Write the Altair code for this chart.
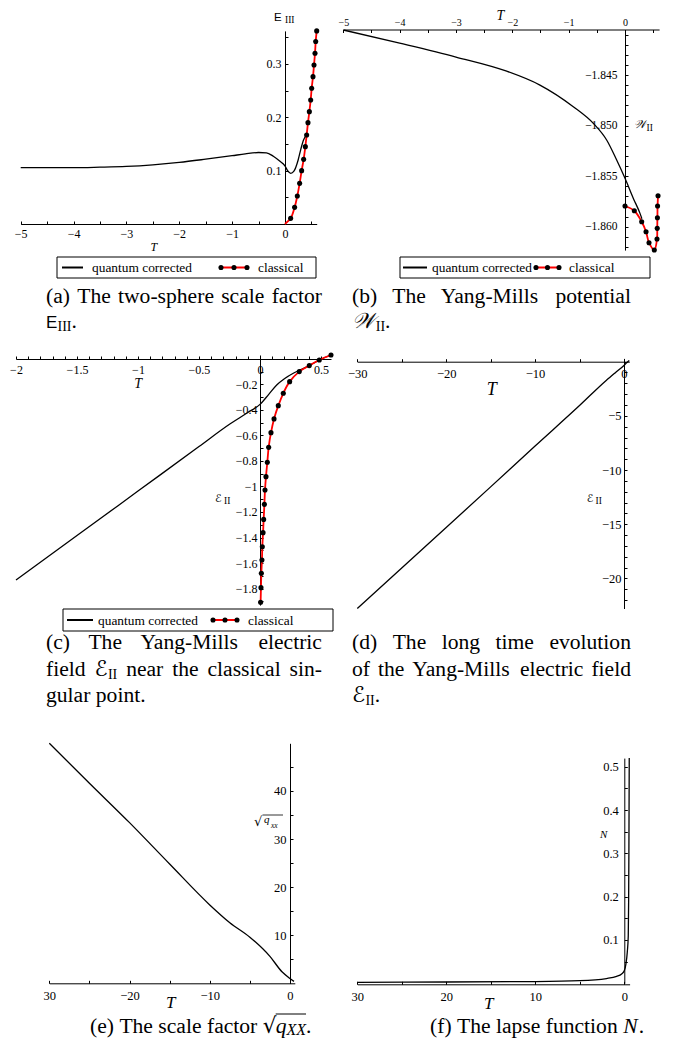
import altair as alt
import pandas as pd

# ---------------- data ----------------
# (a) two-sphere scale factor E_III
a_quant_T = [-5, -4, -3.5, -3, -2.5, -2, -1.5, -1, -0.75, -0.5, -0.35, -0.22, -0.1, 0, 0.05, 0.11, 0.17, 0.25, 0.3, 0.35, 0.41]
a_quant_E = [0.1055, 0.1055, 0.1065, 0.108, 0.111, 0.1155, 0.1215, 0.128, 0.1315, 0.134, 0.1335, 0.127, 0.118, 0.109, 0.1, 0.095, 0.099, 0.12, 0.14, 0.157, 0.167]
a_class_T = [0, 0.108, 0.183, 0.234, 0.278, 0.316, 0.354, 0.386, 0.411, 0.436, 0.462, 0.487, 0.506, 0.531, 0.55, 0.569, 0.582, 0.601]
a_class_E = [0, 0.0106, 0.0312, 0.0525, 0.0762, 0.1, 0.1212, 0.145, 0.1669, 0.19, 0.2106, 0.2325, 0.2544, 0.2762, 0.298, 0.32, 0.342, 0.362]

# (b) Yang-Mills potential W_II
b_quant_T = [-5, -4, -3, -2.1, -1.51, -0.918, -0.562, -0.326, -0.148, 0, 0.148, 0.266, 0.3]
b_quant_W = [-1.84055, -1.84185, -1.84322, -1.84462, -1.84599, -1.84813, -1.84978, -1.85142, -1.8534, -1.85521, -1.85719, -1.85867, -1.8592]
b_class_T = [0, 0.165, 0.296, 0.373, 0.426, 0.52, 0.568, 0.572, 0.575, 0.578, 0.586]
b_class_W = [-1.85794, -1.85841, -1.8595, -1.86048, -1.86157, -1.86229, -1.86121, -1.86015, -1.8591, -1.85794, -1.85693]

# (c) Yang-Mills electric field near the classical singular point
c_quant_T = [-2, -1.5, -1, -0.5, -0.25, -0.1, 0, 0.07, 0.137, 0.2, 0.273, 0.33, 0.404, 0.486, 0.582]
c_quant_E = [-1.733, -1.385, -1.036, -0.687, -0.512, -0.42, -0.356, -0.28, -0.204, -0.155, -0.112, -0.086, -0.052, -0.008, 0.031]
c_class_T = [0.005, 0.008, 0.011, 0.016, 0.019, 0.025, 0.03, 0.036, 0.041, 0.049, 0.06, 0.071, 0.09, 0.115, 0.15, 0.191, 0.243, 0.322, 0.404, 0.486, 0.582]
c_class_E = [-1.908, -1.793, -1.681, -1.576, -1.472, -1.362, -1.258, -1.14, -1.027, -0.923, -0.81, -0.693, -0.578, -0.47, -0.366, -0.269, -0.178, -0.099, -0.052, -0.008, 0.031]

# (d) long time evolution of the electric field
d_T = [-30, -25, -20, -15, -10, -5, -2, -1, 0, 0.3, 0.6]
d_E = [-22.77, -19.03, -15.3, -11.55, -7.78, -4.05, -1.733, -1.036, -0.356, -0.11, 0.1]

# (e) scale factor sqrt(q_xx)
e_T = [-30, -25, -20, -15, -10, -7.5, -5, -2.5, -1, 0, 0.5]
e_Q = [49.9, 41.6, 33.4, 24.8, 16.3, 12.6, 9.6, 5.6, 2.4, 1.0, 0.4]

# (f) lapse function N
f_T = [-30, -20, -10, -5, -2, -0.86, -0.3, 0, 0.19, 0.34, 0.45, 0.49, 0.52, 0.56]
f_N = [0.0023, 0.003, 0.004, 0.006, 0.011, 0.016, 0.0215, 0.029, 0.045, 0.072, 0.11, 0.187, 0.30, 0.52]

legend_labels = ["quantum corrected", "classical"]

# ---------------- helpers ----------------
W, H = 668, 1031
M = 8
SERIF = "Liberation Serif, Times New Roman, serif"
SANS = "Liberation Sans, Arial, sans-serif"
MATH = "DejaVu Serif, DejaVu Sans, Liberation Serif"
DUMMY = pd.DataFrame({"k": [0]})


def scale(dom, p0, p1):
    return alt.Scale(domain=dom, range=[p0 - M, p1 - M], nice=False, zero=False)


def x_label_axis(ypage, orient, values, size, pad, fmt="d", expr=None):
    y = ypage - M
    off = y - H if orient == "bottom" else -y
    kw = dict(orient=orient, offset=off, values=values, format=fmt, ticks=False, tickSize=0,
              labelPadding=pad, labelFont=SERIF, labelFontSize=size, labelColor="black",
              labelFlush=False, labelOverlap=False, domainColor="black", domainWidth=1,
              grid=False, title=None)
    if expr:
        kw["labelExpr"] = expr
    return alt.Axis(**kw)


def y_label_axis(xpage, values, size, pad, fmt="d"):
    return alt.Axis(orient="left", offset=-(xpage - M), values=values, format=fmt, ticks=False,
                    tickSize=0, labelPadding=pad, labelFont=SERIF, labelFontSize=size,
                    labelColor="black", labelFlush=False, labelOverlap=False,
                    domainColor="black", domainWidth=1, grid=False, title=None)


def x_tick_axis(ypage, orient, values, size=3):
    y = ypage - M
    off = y - H if orient == "bottom" else -y
    return alt.Axis(orient=orient, offset=off, values=values, labels=False, domain=False,
                    tickSize=size, tickColor="black", tickWidth=1, grid=False, title=None)


def y_tick_axis(xpage, values, size=3):
    return alt.Axis(orient="right", offset=(xpage - M) - W, values=values, labels=False,
                    domain=False, tickSize=size, tickColor="black", tickWidth=1, grid=False,
                    title=None)


def steps(a, b, s):
    n = int(round((b - a) / s))
    return [round(a + i * s, 6) for i in range(n + 1)]


def curve(T, V, xs, ys, color="black", width=1.3, interp="monotone", xaxis=None, yaxis=None, opacity=1):
    df = pd.DataFrame({"T": T, "V": V})
    return alt.Chart(df).mark_line(color=color, strokeWidth=width, interpolate=interp,
                                   strokeOpacity=opacity).encode(
        x=alt.X("T:Q", scale=xs, axis=xaxis),
        y=alt.Y("V:Q", scale=ys, axis=yaxis),
    )


def dots(T, V, xs, ys):
    df = pd.DataFrame({"T": T, "V": V})
    return alt.Chart(df).mark_circle(size=26, color="black", opacity=1).encode(
        x=alt.X("T:Q", scale=xs, axis=None), y=alt.Y("V:Q", scale=ys, axis=None))


def txt(s, xpage, ypage, size, font=SERIF, style="normal", align="left", baseline="alphabetic"):
    return alt.Chart(DUMMY).mark_text(text=s, font=font, fontSize=size, fontStyle=style,
                                      align=align, baseline=baseline, color="black").encode(
        x=alt.value(xpage - M), y=alt.value(ypage - M))


def hline(x0, x1, y, color, width):
    return alt.Chart(DUMMY).mark_rule(color=color, strokeWidth=width).encode(
        x=alt.value(x0 - M), x2=alt.value(x1 - M), y=alt.value(y - M))


def dot(x, y):
    return alt.Chart(DUMMY).mark_circle(size=26, color="black", opacity=1).encode(
        x=alt.value(x - M), y=alt.value(y - M))


def box(x0, x1, y0, y1):
    return alt.Chart(DUMMY).mark_rect(fill="white", fillOpacity=0, stroke="black", strokeWidth=1).encode(
        x=alt.value(x0 - M), x2=alt.value(x1 - M), y=alt.value(y0 - M), y2=alt.value(y1 - M))


def legend(x0, x1, y0, y1, black0, black1, t1, d0, d1, t2, size=13.4):
    yc = (y0 + y1) / 2
    return [box(x0, x1, y0, y1),
            hline(black0, black1, yc, "black", 2),
            txt(legend_labels[0], t1, yc + 4.5, size),
            hline(d0, d1, yc, "red", 2),
            dot(d0, yc), dot((d0 + d1) / 2, yc), dot(d1, yc),
            txt(legend_labels[1], t2, yc + 4.5, size)]


# caption typesetting (Times metrics)
TIMES = {' ': 250, '(': 333, ')': 333, '-': 333, '.': 250,
         'a': 444, 'b': 500, 'c': 444, 'd': 500, 'e': 444, 'f': 333, 'g': 500, 'h': 500,
         'i': 278, 'j': 278, 'k': 500, 'l': 278, 'm': 778, 'n': 500, 'o': 500, 'p': 500,
         'q': 500, 'r': 333, 's': 389, 't': 278, 'u': 500, 'v': 500, 'w': 722, 'x': 500,
         'y': 500, 'z': 444, 'T': 611, 'Y': 722, 'M': 889, 'E': 611, 'N': 722, 'I': 333,
         'W': 944, 'X': 611}
CAP = 21.6


def tw(s, size=CAP):
    return sum(TIMES.get(ch, 500) for ch in s) * size / 1000.0


def piece(t, size=CAP, font=SERIF, style="normal", dy=0, w=None):
    return dict(t=t, size=size, font=font, style=style, dy=dy, w=tw(t, size) if w is None else w)


def set_line(words, x0, y, x1=None):
    words = [[piece(w)] if isinstance(w, str) else w for w in words]
    widths = [sum(p["w"] for p in w) for w in words]
    if x1 is None or len(words) == 1:
        gap = tw(" ")
    else:
        gap = (x1 - x0 - sum(widths)) / (len(words) - 1)
    out = []
    x = x0
    for w, wd in zip(words, widths):
        xx = x
        for p in w:
            out.append(txt(p["t"], xx, y + p["dy"], p["size"], p["font"], p["style"]))
            xx += p["w"]
        x += wd + gap
    return out


layers = []

# ---------------- panel (a) ----------------
xa = scale([-5, 0.601], 20.7, 316.7)
ya = scale([0, 0.362], 224, 30.9)
layers += [
    curve(a_quant_T, a_quant_E, xa, ya,
          xaxis=x_label_axis(224, "bottom", [-5, -4, -3, -2, -1, 0], 12, 4),
          yaxis=y_label_axis(285, [0.1, 0.2, 0.3], 12, 4, ".1f")),
    curve(a_class_T, a_class_E, xa, ya, color="red", width=1.8, interp="catmull-rom",
          xaxis=x_tick_axis(224, "top", steps(-5, 0.5, 0.5)),
          yaxis=y_tick_axis(285, steps(0.05, 0.35, 0.05))),
    dots(a_class_T[1:], a_class_E[1:], xa, ya),
    txt("E", 274, 20.7, 11.5, SANS),
    txt("III", 285, 22.7, 9.5),
    txt("T", 150.5, 250.5, 12, SERIF, "italic"),
]
layers += legend(57, 316, 257, 278, 62, 83, 92, 221, 247, 258)

# ---------------- panel (b) ----------------
xb = scale([-5, 0.605], 343.3, 659.1)
yb = scale([-1.8623, -1.8405], 250.1, 29.5)
layers += [
    curve(b_quant_T, b_quant_W, xb, yb,
          xaxis=x_label_axis(29.5, "top", [-5, -4, -3, -2, -1, 0], 10, 2),
          yaxis=y_label_axis(625, [-1.845, -1.85, -1.855, -1.86], 11.5, 8, ".3f")),
    curve(b_class_T, b_class_W, xb, yb, color="red", width=1.8, interp="catmull-rom",
          xaxis=x_tick_axis(29.5, "bottom", steps(-5, 0.5, 0.5)),
          yaxis=y_tick_axis(625, steps(-1.862, -1.841, 0.001))),
    dots(b_class_T, b_class_W, xb, yb),
    txt("T", 496.5, 19.5, 14, SERIF, "italic"),
    txt("\U0001D4B2", 634, 127.5, 11.5, MATH, "italic"),
    txt("II", 646.5, 130.5, 9.5),
]
layers += legend(400, 650, 257, 278, 403, 427, 432, 536, 559, 569)

# ---------------- panel (c) ----------------
xc = scale([-2, 0.582], 16, 331)
yc_ = scale([-1.93, 0.031], 605.1, 355)
layers += [
    curve(c_quant_T, c_quant_E, xc, yc_,
          xaxis=x_label_axis(359, "bottom", [-2, -1.5, -1, -0.5, 0, 0.5], 12, 5, ".1~f"),
          yaxis=y_label_axis(260, [-0.2, -0.4, -0.6, -0.8, -1, -1.2, -1.4, -1.6, -1.8], 12, 3, ".1~f")),
    curve(c_class_T, c_class_E, xc, yc_, color="red", width=1.8, interp="catmull-rom",
          xaxis=x_tick_axis(359, "top", steps(-2, 0.5, 0.1)),
          yaxis=y_tick_axis(260, steps(-1.9, 0, 0.1))),
    dots(c_class_T, c_class_E, xc, yc_),
    txt("T", 134.3, 388.3, 14, SERIF, "italic"),
    txt("\u2130", 215, 501.7, 11, MATH),
    txt("II", 224, 504.3, 9.5),
]
layers += legend(63, 333, 609, 631, 67, 93, 98, 213, 237, 248)

# ---------------- panel (d) ----------------
xd = scale([-30, 0.6], 357.3, 629.3)
yd = scale([-22.77, 0.3], 608.5, 358.4)
layers += [
    curve(d_T, d_E, xd, yd,
          xaxis=x_label_axis(361.7, "bottom", [-30, -20, -10, 0], 12.5, 6),
          yaxis=y_label_axis(624, [-5, -10, -15, -20], 12.5, 3)),
    curve(d_T, d_E, xd, yd, opacity=0,
          xaxis=x_tick_axis(361.7, "top", steps(-30, 0, 5)),
          yaxis=y_tick_axis(624, steps(-22, 0, 1))),
    txt("T", 486.7, 395, 18, SERIF, "italic"),
    txt("\u2130", 586.7, 501.7, 11, MATH),
    txt("II", 595.5, 504.3, 9.5),
]

# ---------------- panel (e) ----------------
xe = scale([-30, 0.6], 49.3, 294.8)
ye = scale([0, 49.9], 983.3, 743.3)
layers += [
    curve(e_T, e_Q, xe, ye,
          xaxis=x_label_axis(983.3, "bottom", [-30, -20, -10, 0], 12.5, 6,
                             expr="datum.value == -30 ? '30' : datum.label"),
          yaxis=y_label_axis(290, [10, 20, 30, 40], 12.5, 4)),
    curve(e_T, e_Q, xe, ye, opacity=0,
          xaxis=x_tick_axis(983.3, "top", steps(-30, 0, 5)),
          yaxis=y_tick_axis(290, steps(5, 45, 5))),
    txt("T", 166, 1008, 17, SERIF, "italic"),
    txt("\u221A", 254, 826, 13, MATH),
    txt("q", 264, 823, 11, SERIF, "italic"),
    txt("xx", 271, 828, 7.5, SERIF, "italic"),
    hline(262.5, 283, 815, "black", 0.8),
]

# ---------------- panel (f) ----------------
xf = scale([-30, 0.6], 357.3, 629.6)
yf = scale([0, 0.52], 983.3, 758.1)
layers += [
    curve(f_T, f_N, xf, yf,
          xaxis=x_label_axis(984.3, "bottom", [-30, -20, -10, 0], 12.5, 6,
                             expr="format(abs(datum.value), 'd')"),
          yaxis=y_label_axis(624.3, [0.1, 0.2, 0.3, 0.4, 0.5], 12.5, 6, ".1f")),
    curve(f_T, f_N, xf, yf, opacity=0,
          xaxis=x_tick_axis(984.3, "top", steps(-30, 0, 5)),
          yaxis=y_tick_axis(624.3, steps(0.05, 0.5, 0.05))),
    txt("T", 484, 1009, 17, SERIF, "italic"),
    txt("N", 600, 838, 11, SERIF, "italic"),
]

# ---------------- captions ----------------
LX0, LX1 = 46, 322
RX0, RX1 = 352, 631
sub = lambda s: piece(s, 14, SERIF, "normal", 3)
script_E = piece("\u2130", CAP, MATH, "normal", 0, 0.62 * CAP)

layers += set_line(["(a)", "The", "two-sphere", "scale", "factor"], LX0, 303, LX1)
layers += set_line([[piece("E", 17, SANS, "normal", 0, 11.5), sub("III"), piece(".")]], LX0, 328)
layers += set_line(["(b)", "The", "Yang-Mills", "potential"], RX0, 303, RX1)
layers += set_line([[piece("\U0001D4B2", CAP, MATH, "italic", 0, 1.1 * CAP), sub("II"), piece(".")]], RX0, 328)

layers += set_line(["(c)", "The", "Yang-Mills", "electric"], LX0, 649, LX1)
layers += set_line(["field", [script_E, sub("II")], "near", "the", "classical", "sin-"], LX0, 676, LX1)
layers += set_line(["gular", "point."], LX0, 702)
layers += set_line(["(d)", "The", "long", "time", "evolution"], RX0, 649, RX1)
layers += set_line(["of", "the", "Yang-Mills", "electric", "field"], RX0, 676, RX1)
layers += set_line([[script_E, sub("II"), piece(".")]], RX0, 702)

EX0 = 90
layers += set_line(["(e)", "The", "scale",
                    [piece("factor"), piece(" "), piece("\u221A", CAP, MATH, "normal", 0, 0.6 * CAP),
                     piece("q", CAP, SERIF, "italic"), piece("XX", 16, SERIF, "italic", 2), piece(".")]],
                   EX0, 1033)
sq0 = EX0 + tw("(e) The scale factor ") + 0.6 * CAP
layers.append(hline(sq0, sq0 + tw("q") + tw("XX", 16), 1014, "black", 1))
layers += set_line(["(f)", "The", "lapse", "function", [piece("N", CAP, SERIF, "italic"), piece(".")]], 430, 1033)

chart = alt.layer(*layers).resolve_scale(x="independent", y="independent").properties(
    width=W, height=H, autosize=alt.AutoSizeParams(type="none"), padding=0,
).configure_view(stroke="transparent")

chart.save("out.html", embed_options={"renderer": "svg", "actions": False})
